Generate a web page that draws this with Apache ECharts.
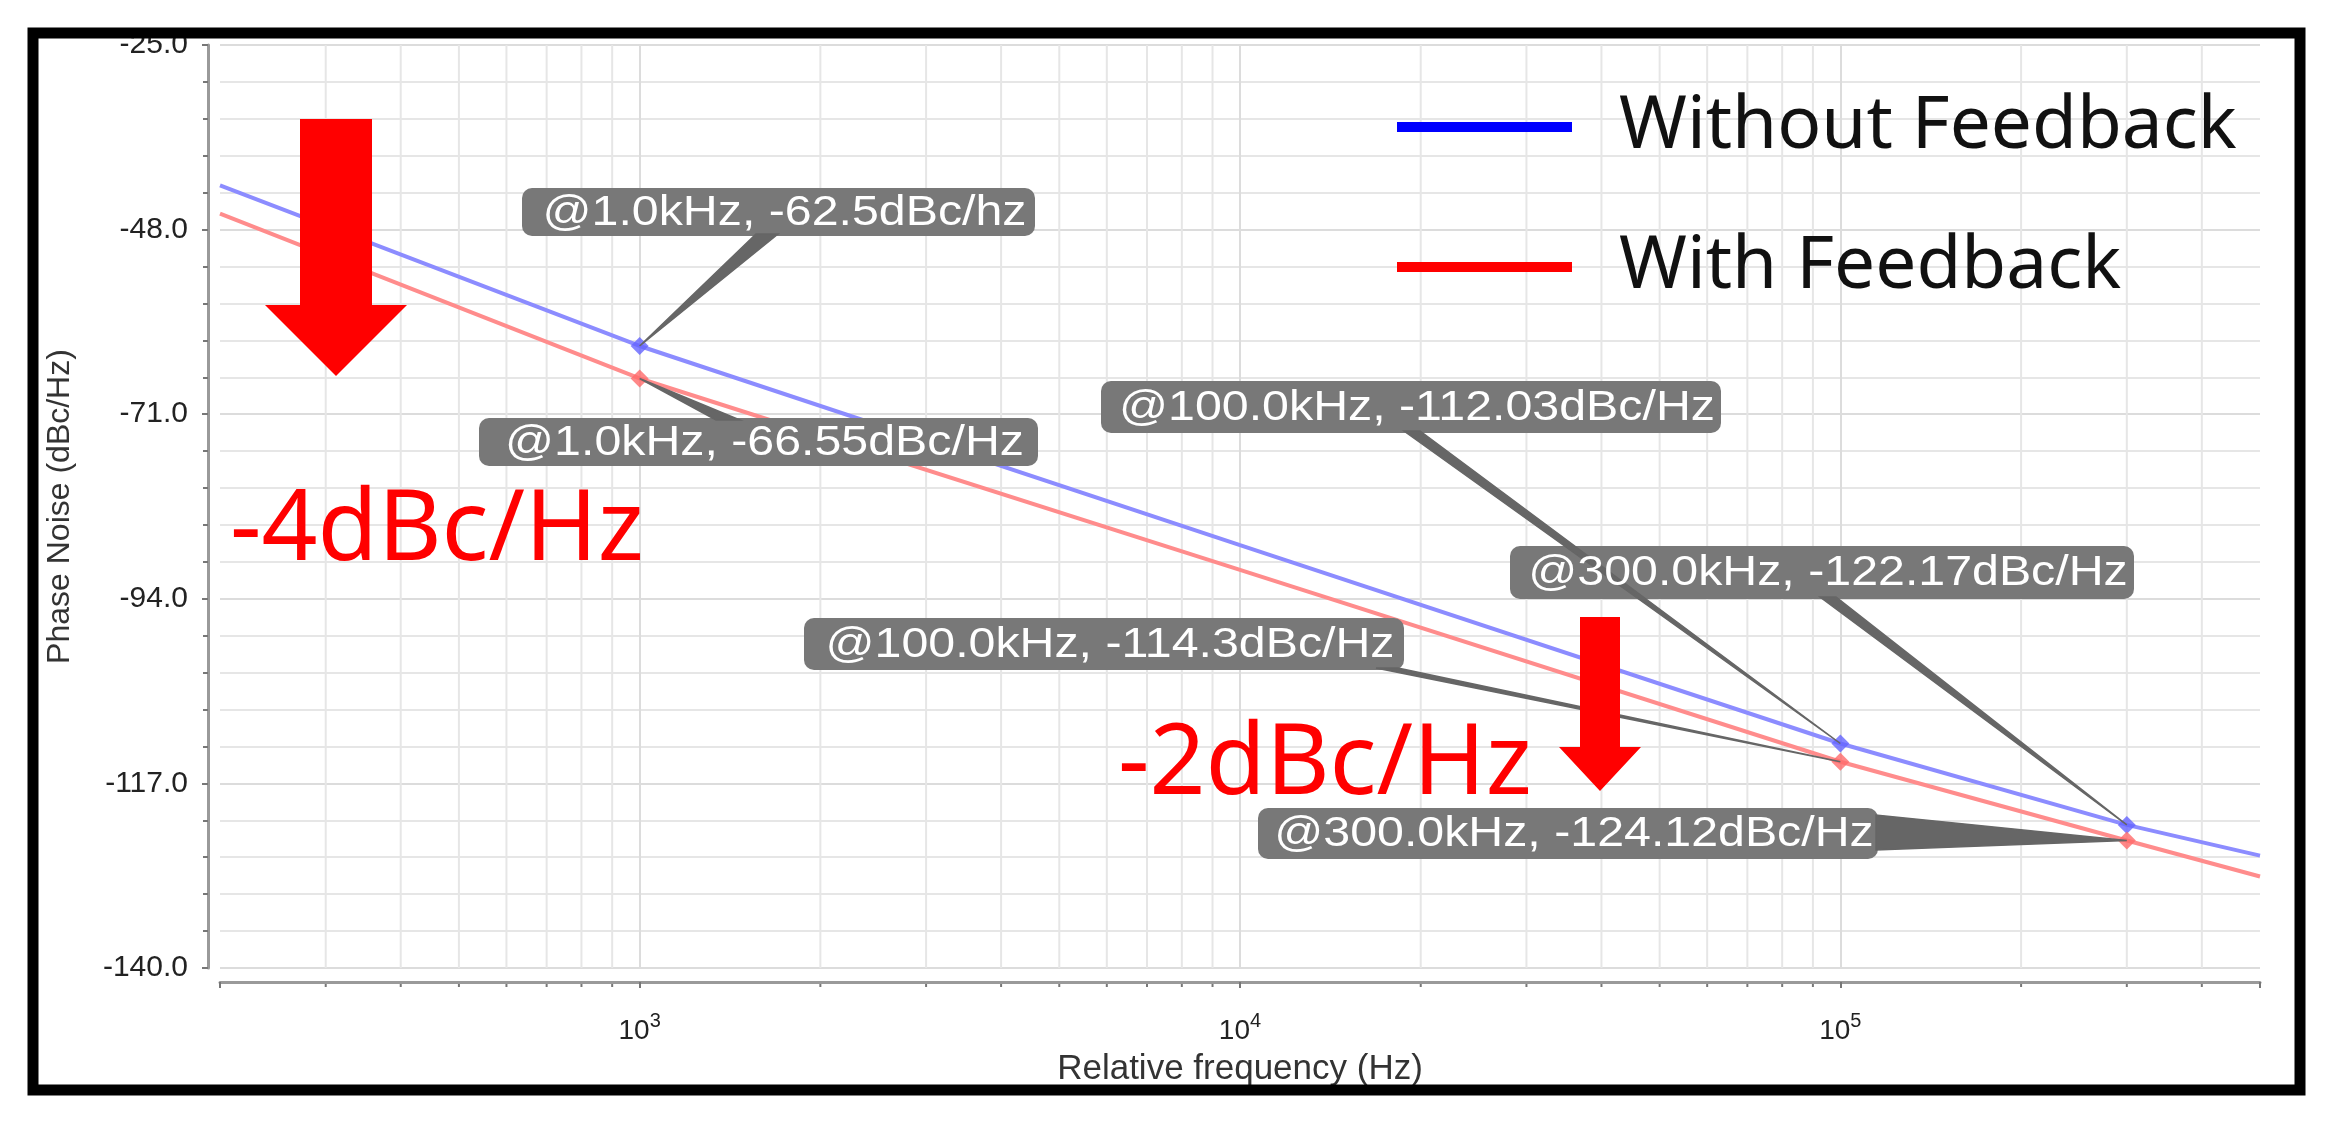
<!DOCTYPE html>
<html>
<head>
<meta charset="utf-8">
<script src="https://cdn.jsdelivr.net/npm/echarts@6/dist/echarts.min.js"></script>
<style>
  html, body { margin: 0; padding: 0; background: #fff; }
  #chart { width: 2335px; height: 1121px; }
</style>
</head>
<body>
<div id="chart"></div>
<script>
// phase noise vs offset frequency (Hz)
const freqs = [200, 1000, 10000, 100000, 300000, 500000]
const withoutFeedback = [-42.5, -62.5, -87.3, -112.03, -122.17, -126.0]
const withFeedback = [-46.0, -66.55, -90.4, -114.3, -124.12, -128.6]

// marked points
const markerFreqs = [1000, 100000, 300000]
const markerWithout = [-62.5, -112.03, -122.17]
const markerWith = [-66.55, -114.3, -124.12]

// minor log grid (2..9 per decade)
const minorFreqs = [
  300, 400, 500, 600, 700, 800, 900,
  2000, 3000, 4000, 5000, 6000, 7000, 8000, 9000,
  20000, 30000, 40000, 50000, 60000, 70000, 80000, 90000,
  200000, 300000, 400000
]

const calloutLabels = [
  '@1.0kHz, -62.5dBc/hz',
  '@1.0kHz, -66.55dBc/Hz',
  '@100.0kHz, -112.03dBc/Hz',
  '@300.0kHz, -122.17dBc/Hz',
  '@100.0kHz, -114.3dBc/Hz',
  '@300.0kHz, -124.12dBc/Hz'
]

const chart = echarts.init(document.getElementById('chart'))

const tickFont = 'Liberation Sans, Arial, sans-serif'
const gridColor = '#e6e6e6'

chart.setOption({
  backgroundColor: '#fff',
  animation: false,
  grid: { left: 220, right: 75, top: 45, bottom: 153 },
  legend: {
    left: 1392,
    top: 80,
    orient: 'vertical',
    icon: 'rect',
    itemWidth: 175,
    itemHeight: 10,
    itemGap: 56,
    textStyle: {
      fontFamily: 'Noto Sans',
      fontSize: 73,
      lineHeight: 84,
      color: '#111',
      padding: [0, 0, 0, 42]
    },
    data: [
      { name: 'Without Feedback', itemStyle: { color: '#0000ff' } },
      { name: 'With Feedback', itemStyle: { color: '#ff0000' } }
    ]
  },
  xAxis: {
    type: 'log',
    logBase: 10,
    min: 200,
    max: 500000,
    offset: 14,
    name: 'Relative frequency (Hz)',
    nameLocation: 'middle',
    nameGap: 70,
    nameTextStyle: { fontFamily: tickFont, fontSize: 35, color: '#333' },
    axisLine: { show: true, lineStyle: { color: '#9a9a9a', width: 3 } },
    axisTick: { show: true, length: 6, lineStyle: { color: '#777', width: 2 } },
    axisLabel: {
      margin: 29,
      formatter: (v) => {
        const e = Math.log10(v)
        if (Math.abs(e - Math.round(e)) > 1e-6) return ''
        return '{b|10}{s|' + Math.round(e) + '}'
      },
      rich: {
        b: { fontFamily: tickFont, fontSize: 28, lineHeight: 40, color: '#222' },
        s: { fontFamily: tickFont, fontSize: 20, lineHeight: 18, verticalAlign: 'top', color: '#222' }
      }
    },
    splitLine: { show: true, showMinLine: false, showMaxLine: false, lineStyle: { color: '#dcdcdc', width: 2 } }
  },
  yAxis: {
    type: 'value',
    min: -140,
    max: -25,
    interval: 23,
    offset: 12,
    name: 'Phase Noise (dBc/Hz)',
    nameLocation: 'middle',
    nameGap: 132,
    nameTextStyle: { fontFamily: tickFont, fontSize: 32, color: '#333' },
    axisLine: { show: true, lineStyle: { color: '#9a9a9a', width: 3 } },
    axisTick: { show: true, length: 6, lineStyle: { color: '#777', width: 2 } },
    minorTick: { show: true, splitNumber: 5, length: 5, lineStyle: { color: '#777', width: 2 } },
    axisLabel: {
      margin: 20,
      fontFamily: tickFont,
      fontSize: 30,
      color: '#222',
      formatter: (v) => v.toFixed(1)
    },
    splitLine: { show: true, lineStyle: { color: '#dcdcdc', width: 2 } },
    minorSplitLine: { show: true, lineStyle: { color: gridColor, width: 2 } }
  },
  series: [
    {
      type: 'custom',
      name: 'minor grid',
      silent: true,
      clip: false,
      z: 0,
      data: minorFreqs.map((f) => [f, -140]),
      renderItem: (params, api) => {
        const cs = params.coordSys
        const x = api.coord([api.value(0), -140])[0]
        const bottom = cs.y + cs.height
        return {
          type: 'group',
          children: [
            { type: 'line', shape: { x1: x, y1: cs.y, x2: x, y2: bottom }, style: { stroke: gridColor, lineWidth: 2 } },
            { type: 'line', shape: { x1: x, y1: bottom + 14, x2: x, y2: bottom + 19 }, style: { stroke: '#777', lineWidth: 2 } }
          ]
        }
      }
    },
    {
      type: 'line',
      name: 'Without Feedback',
      data: freqs.map((f, i) => [f, withoutFeedback[i]]),
      symbol: 'none',
      color: '#8c8cff',
      lineStyle: { width: 4, color: '#8c8cff' },
      z: 3
    },
    {
      type: 'line',
      name: 'With Feedback',
      data: freqs.map((f, i) => [f, withFeedback[i]]),
      symbol: 'none',
      color: '#ff8c8c',
      lineStyle: { width: 4, color: '#ff8c8c' },
      z: 3
    },
    {
      type: 'scatter',
      name: 'without markers',
      data: markerFreqs.map((f, i) => [f, markerWithout[i]]),
      symbol: 'diamond',
      symbolSize: 18,
      itemStyle: { color: '#6464ff' },
      z: 4
    },
    {
      type: 'scatter',
      name: 'with markers',
      data: markerFreqs.map((f, i) => [f, markerWith[i]]),
      symbol: 'diamond',
      symbolSize: 18,
      itemStyle: { color: '#ff6a6a' },
      z: 4
    }
  ]
})

// callout boxes: pointer tip comes from the data point
const callouts = [
  { pt: [markerFreqs[0], markerWithout[0]], box: [522, 188, 513, 48], base: [[756, 234], [778, 234]] },
  { pt: [markerFreqs[0], markerWith[0]], box: [479, 418, 559, 48], base: [[716, 420], [740, 420]] },
  { pt: [markerFreqs[1], markerWithout[1]], box: [1101, 381, 620, 52], base: [[1404, 431], [1420, 431]] },
  { pt: [markerFreqs[2], markerWithout[2]], box: [1510, 546, 624, 53], base: [[1820, 597], [1836, 597]] },
  { pt: [markerFreqs[1], markerWith[1]], box: [804, 618, 600, 52], base: [[1376, 668], [1398, 668]] },
  { pt: [markerFreqs[2], markerWith[2]], box: [1258, 808, 620, 51], base: [[1876, 815], [1876, 850]] }
]

const boxColor = '#787878'
const pointers = []
const boxes = []
const texts = []
callouts.forEach((c, i) => {
  const tip = chart.convertToPixel({ xAxisIndex: 0, yAxisIndex: 0 }, c.pt)
  pointers.push({
    type: 'polygon',
    z: 100,
    shape: { points: [c.base[0], c.base[1], tip] },
    style: { fill: '#666', stroke: '#666', lineWidth: 1.5 }
  })
  boxes.push({
    type: 'rect',
    z: 99,
    shape: { x: c.box[0], y: c.box[1], width: c.box[2], height: c.box[3], r: 10 },
    style: { fill: boxColor }
  })
  texts.push({
    type: 'text',
    z: 101,
    x: c.box[0] + c.box[2] / 2 + 6,
    y: c.box[1] + c.box[3] / 2 + 1,
    scaleX: 1.15,
    style: {
      x: 0,
      y: 0,
      text: calloutLabels[i],
      fill: '#fff',
      font: '42px "Liberation Sans", Arial, sans-serif',
      align: 'center',
      verticalAlign: 'middle'
    }
  })
})

chart.setOption({
  graphic: [
    {
      type: 'rect',
      z: 120,
      silent: true,
      shape: { x: 33, y: 33, width: 2267, height: 1057 },
      style: { fill: 'none', stroke: '#000', lineWidth: 11 }
    },
    {
      type: 'polygon',
      z: 110,
      shape: { points: [[300, 119], [372, 119], [372, 305], [407, 305], [336, 376], [265, 305], [300, 305]] },
      style: { fill: '#ff0000' }
    },
    {
      type: 'polygon',
      z: 110,
      shape: { points: [[1580, 617], [1620, 617], [1620, 747], [1641, 747], [1600, 791], [1559, 747], [1580, 747]] },
      style: { fill: '#ff0000' }
    },
    {
      type: 'text',
      z: 110,
      x: 230,
      y: 532,
      style: { text: '-4dBc/Hz', fill: '#ff0000', font: '98px "Noto Sans", sans-serif', align: 'left', verticalAlign: 'middle' }
    },
    {
      type: 'text',
      z: 110,
      x: 1118,
      y: 766,
      style: { text: '-2dBc/Hz', fill: '#ff0000', font: '98px "Noto Sans", sans-serif', align: 'left', verticalAlign: 'middle' }
    }
  ].concat(boxes, pointers, texts)
})
</script>
</body>
</html>
